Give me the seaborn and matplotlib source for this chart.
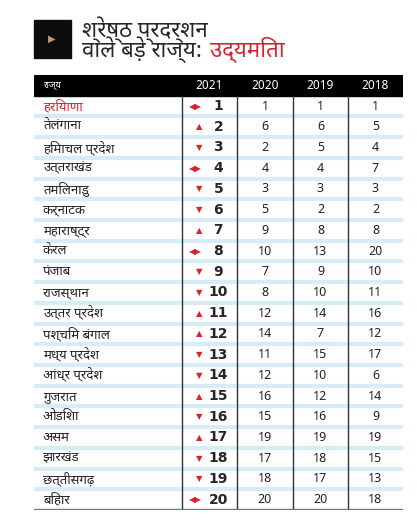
import matplotlib
matplotlib.use("Agg")
import matplotlib.pyplot as plt
import seaborn as sns
import numpy as np

states = ["हरियाणा","तेलंगाना","हिमाचल प्रदेश","उत्तराखंड","तमिलनाडु","कर्नाटक","महाराष्ट्र","केरल","पंजाब","राजस्थान",
          "उत्तर प्रदेश","पश्चिम बंगाल","मध्य प्रदेश","आंध्र प्रदेश","गुजरात","ओडिशा","असम","झारखंड","छत्तीसगढ़","बिहार"]
r2021 = [1,2,3,4,5,6,7,8,9,10,11,12,13,14,15,16,17,18,19,20]
r2020 = [1,6,2,4,3,5,9,10,7,8,12,14,11,12,16,15,19,17,18,20]
r2019 = [1,6,5,4,3,2,8,13,9,10,14,7,15,10,12,16,19,18,17,20]
r2018 = [1,5,4,7,3,2,8,20,10,11,16,12,17,6,14,9,19,15,13,18]
trend = ["same","up","down","same","down","down","up","same","down","down",
         "up","up","down","down","up","down","up","down","down","same"]
years = ["2021","2020","2019","2018"]

sns.set_style("white")
plt.rcParams['font.family'] = ['Noto Sans', 'DejaVu Sans']
W, H = 417, 525
fig = plt.figure(figsize=(W/100, H/100), dpi=100)
RED = "#d7232b"

# title
fig.patches.append(plt.Rectangle((34/W, 1-58/H), 37/W, 38/H, transform=fig.transFigure, color="#0d0d0d"))
fig.text(52/W, 1-39/H, "▶", color="#b89b62", fontsize=7, ha="center", va="center")
fig.text(82/W, 1-30/H, "श्रेष्ठ प्रदर्शन", fontsize=16, fontweight="bold", va="center")
fig.text(82/W, 1-50/H, "वाले बड़े राज्य:", fontsize=16, fontweight="bold", va="center")
fig.text(210/W, 1-50/H, "उद्यमिता", fontsize=16, fontweight="bold", va="center", color=RED)

n = len(states)
ax = fig.add_axes([34/W, 1-510/H, (403-34)/W, (510-75)/H])
data = np.zeros((n+1, 5))
sns.heatmap(data, ax=ax, cmap=["white"], cbar=False, xticklabels=False, yticklabels=False)
ax.set_xlim(0, 5); ax.set_ylim(n+1, 0)
edges_px = [34, 182, 237, 293, 348, 403]
xe = [(e-34)/(403-34)*5 for e in edges_px]
ax.add_patch(plt.Rectangle((0, 0), 5, 1, color="black"))
ax.text(0.12, 0.5, "राज्य", color="white", fontsize=6.5, va="center")
for j, y in enumerate(years):
    ax.text((xe[j+1]+xe[j+2])/2, 0.5, y, color="white", fontsize=8.5, ha="center", va="center")
for i in range(n):
    yy = i + 1
    ax.axhline(yy+1, color="#d6edf8", lw=3, zorder=1)
    ax.text(0.12, yy+0.5, states[i], fontsize=9.5, va="center", color=RED if i == 0 else "#222222")
    sym = {"up": "▲", "down": "▼", "same": "◀▶"}[trend[i]]
    cx = (xe[1]+xe[2])/2
    ax.text(cx+0.12, yy+0.5, str(r2021[i]), fontsize=10, fontweight="bold", ha="center", va="center",
            family="DejaVu Sans")
    ax.text(cx-0.1, yy+0.5, sym, fontsize=6, color=RED, ha="right", va="center", family="DejaVu Sans")
    for j, arr in enumerate([r2020, r2019, r2018]):
        ax.text((xe[j+2]+xe[j+3])/2, yy+0.5, str(arr[i]), fontsize=9, ha="center", va="center", color="#222222")
for x in xe[1:5]:
    ax.plot([x, x], [1, n+1], color="#333333", lw=1, zorder=3)
ax.plot([0, 5], [n+1, n+1], color="#666666", lw=2, zorder=3)
for s in ax.spines.values():
    s.set_visible(False)
fig.savefig("out.png", dpi=100)
